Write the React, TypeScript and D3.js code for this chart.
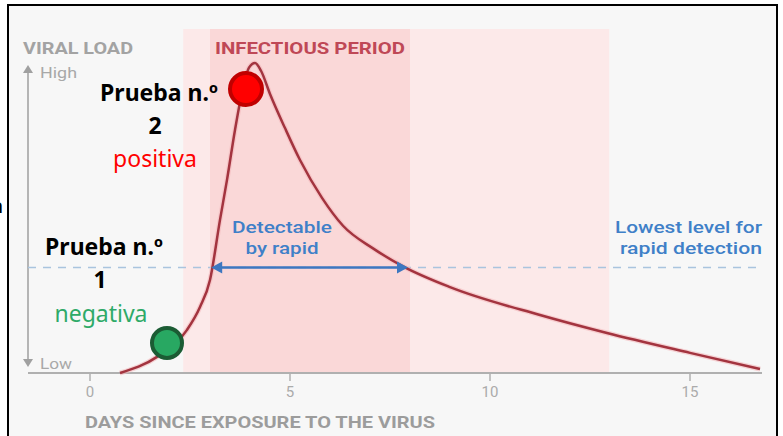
import React from "react";
import * as d3 from "d3";

const curveDays = [0.75, 1.675, 2.425, 2.75, 3.0, 3.25, 3.425, 3.625, 3.825, 3.975, 4.125, 4.275, 4.5, 4.875, 5.25, 5.8, 6.325, 7.075, 7.825, 9.0, 11.25, 12.925, 15.0, 16.75];
const viralLoad = [0, 5.2, 13.9, 21.3, 30, 49.4, 62.3, 78.4, 92, 98.5, 100, 97.5, 90, 79, 68.7, 56.5, 47.5, 40.2, 34.4, 27.7, 18.7, 12.9, 6.5, 1.3];
const xTicks = [0, 5, 10, 15];
const infectiousPeriod = [3, 8];
const wideBand = [2.33, 12.98];
const detectThreshold = 34;
const detectableRange = [3.03, 7.95];
const tests = [
  { day: 1.925, load: 9.7, label: "Prueba n.º", num: "1", result: "negativa" },
  { day: 3.9, load: 91.6, label: "Prueba n.º", num: "2", result: "positiva" },
];

const W = 783;
const H = 436;

export default function App() {
  const x = d3.scaleLinear().domain([0, 15]).range([90, 690]);
  const y = d3.scaleLinear().domain([0, 100]).range([373, 63]);
  const line = d3
    .line<number>()
    .x((_, i) => x(curveDays[i]))
    .y((d) => y(d))
    .curve(d3.curveMonotoneX);
  const pathD = line(viralLoad) || "";
  const axisLeft = 28;
  const axisRight = 762;
  const axisY = y(0);
  const bandTop = 29;
  const ty = y(detectThreshold);
  const ax1 = x(detectableRange[0]);
  const ax2 = x(detectableRange[1]);
  const gfont = "Roboto, 'Liberation Sans', sans-serif";
  const pfont = "'Noto Sans', 'Open Sans', sans-serif";

  return (
    <svg
      width={W}
      height={H}
      style={{ position: "absolute", left: 0, top: 0, display: "block", background: "#ffffff" }}
    >
      <rect x={8} y={5} width={769} height={H} fill="#f7f7f7" stroke="#000" strokeWidth={2} />
      <text x={3} y={213} textAnchor="end" fontFamily={pfont} fontWeight={700} fontSize={20} fill="#000">n</text>

      {/* bands */}
      <rect x={x(wideBand[0])} y={bandTop} width={x(wideBand[1]) - x(wideBand[0])} height={axisY - bandTop} fill="#fce9e9" />
      <rect x={x(infectiousPeriod[0])} y={bandTop} width={x(infectiousPeriod[1]) - x(infectiousPeriod[0])} height={axisY - bandTop} fill="#fad8d8" />

      <text x={23} y={54} fontFamily={gfont} fontWeight={700} fontSize={16} fill="#a3a3a3" textLength={110} lengthAdjust="spacingAndGlyphs">VIRAL LOAD</text>
      <text x={215} y={54} fontFamily={gfont} fontWeight={700} fontSize={16} fill="#bf4856" textLength={190} lengthAdjust="spacingAndGlyphs">INFECTIOUS PERIOD</text>

      {/* y axis */}
      <line x1={axisLeft} x2={axisLeft} y1={70} y2={362} stroke="#b5b5b5" strokeWidth={2} />
      <path d={`M${axisLeft - 5},${73} L${axisLeft},${65} L${axisLeft + 5},${73} Z`} fill="#a0a0a0" />
      <path d={`M${axisLeft - 5},${359} L${axisLeft},${367} L${axisLeft + 5},${359} Z`} fill="#a0a0a0" />
      <text x={40} y={78} fontFamily={gfont} fontSize={14} fill="#a8a8a8" textLength={37} lengthAdjust="spacingAndGlyphs">High</text>
      <text x={40} y={369} fontFamily={gfont} fontSize={14} fill="#a8a8a8" textLength={32} lengthAdjust="spacingAndGlyphs">Low</text>

      {/* threshold */}
      <line x1={axisLeft} x2={axisRight} y1={ty} y2={ty} stroke="#a9c4de" strokeWidth={1.5} strokeDasharray="8 7" />

      {/* x axis */}
      <line x1={axisLeft} x2={axisRight} y1={axisY} y2={axisY} stroke="#b0b0b0" strokeWidth={2} />
      {xTicks.map((t) => (
        <g key={t}>
          <line x1={x(t)} x2={x(t)} y1={axisY} y2={axisY + 8} stroke="#b0b0b0" strokeWidth={1.5} />
          <text x={x(t)} y={397} textAnchor="middle" fontFamily={gfont} fontWeight={400} fontSize={15} fill="#ababab">{t}</text>
        </g>
      ))}
      <text x={85} y={428} fontFamily={gfont} fontWeight={700} fontSize={16} fill="#9c9c9c" textLength={350} lengthAdjust="spacingAndGlyphs">DAYS SINCE EXPOSURE TO THE VIRUS</text>

      {/* curve */}
      <path d={pathD} fill="none" stroke="#f3b9bd" strokeWidth={5} strokeOpacity={0.6} />
      <path d={pathD} fill="none" stroke="#a3343f" strokeWidth={2.5} />

      {/* detectable arrow */}
      <line x1={ax1 + 6} x2={ax2 - 6} y1={ty} y2={ty} stroke="#3d77c0" strokeWidth={2.5} />
      <path d={`M${ax1},${ty} L${ax1 + 11},${ty - 6} L${ax1 + 11},${ty + 6} Z`} fill="#3d77c0" />
      <path d={`M${ax2},${ty} L${ax2 - 11},${ty - 6} L${ax2 - 11},${ty + 6} Z`} fill="#3d77c0" />
      <text x={282} y={233} textAnchor="middle" fontFamily={gfont} fontWeight={500} fontSize={16} fill="#3f80c8" textLength={100} lengthAdjust="spacingAndGlyphs">Detectable</text>
      <text x={282} y={254} textAnchor="middle" fontFamily={gfont} fontWeight={500} fontSize={16} fill="#3f80c8" textLength={73} lengthAdjust="spacingAndGlyphs">by rapid</text>
      <text x={762} y={233} textAnchor="end" fontFamily={gfont} fontWeight={500} fontSize={16} fill="#3f80c8" textLength={147} lengthAdjust="spacingAndGlyphs">Lowest level for</text>
      <text x={762} y={254} textAnchor="end" fontFamily={gfont} fontWeight={500} fontSize={16} fill="#3f80c8" textLength={142} lengthAdjust="spacingAndGlyphs">rapid detection</text>

      {/* test points */}
      <circle cx={x(tests[0].day)} cy={y(tests[0].load)} r={15} fill="#28a862" stroke="#1b5c34" strokeWidth={4} />
      <circle cx={x(tests[1].day)} cy={y(tests[1].load)} r={16} fill="#ff0000" stroke="#c00000" strokeWidth={4} />

      {/* test labels */}
      <text x={104} y={255} textAnchor="middle" fontFamily={pfont} fontWeight={700} fontSize={23} fill="#000">{tests[0].label}</text>
      <text x={100} y={288} textAnchor="middle" fontFamily={pfont} fontWeight={700} fontSize={23} fill="#000">{tests[0].num}</text>
      <text x={101} y={322} textAnchor="middle" fontFamily={pfont} fontSize={23} fill="#2eaa68">{tests[0].result}</text>

      <text x={159} y={101} textAnchor="middle" fontFamily={pfont} fontWeight={700} fontSize={23} fill="#000">{tests[1].label}</text>
      <text x={155} y={134} textAnchor="middle" fontFamily={pfont} fontWeight={700} fontSize={23} fill="#000">{tests[1].num}</text>
      <text x={155} y={167} textAnchor="middle" fontFamily={pfont} fontSize={23} fill="#ff0000">{tests[1].result}</text>
    </svg>
  );
}
